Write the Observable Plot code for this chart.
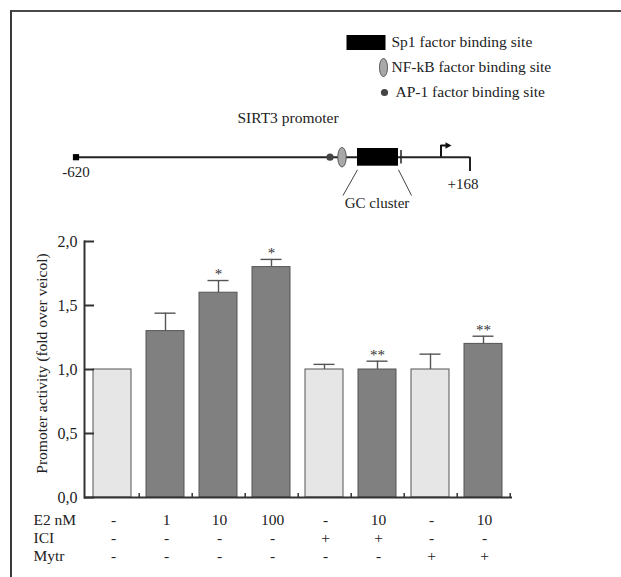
<!DOCTYPE html>
<html><head><meta charset="utf-8">
<script src="https://cdn.jsdelivr.net/npm/d3@7"></script>
<script src="https://cdn.jsdelivr.net/npm/@observablehq/plot@0.6"></script>
<style>
body{margin:0;background:#fff;}
#wrap{position:relative;width:621px;height:577px;overflow:hidden;background:#fff;}
#border{position:absolute;left:10px;top:10px;width:640px;height:600px;border-top:2px solid #4a4a4a;border-left:2px solid #3a3a3a;z-index:5;}
.layer{position:absolute;left:0;}
#wrap svg, #wrap svg text{font-family:"Liberation Serif","Times New Roman",Times,serif !important;}
</style></head><body>
<div id="wrap"><div id="border"></div></div>
<script>
// ---- bar chart data ----
const conditions = ["Vehicle","E2 1 nM","E2 10 nM","E2 100 nM","ICI","E2 10 nM + ICI","Mytr","E2 10 nM + Mytr"];
const activity = [1.00, 1.30, 1.60, 1.80, 1.00, 1.00, 1.00, 1.20];
const sem = [0, 0.14, 0.095, 0.06, 0.04, 0.065, 0.12, 0.06];
const significance = ["", "", "*", "*", "", "**", "", "**"];
const e2Labels = ["-", "1", "10", "100", "-", "10", "-", "10"];
const iciLabels = ["-", "-", "-", "-", "+", "+", "-", "-"];
const mytrLabels = ["-", "-", "-", "-", "-", "-", "+", "+"];
const rowNames = ["E2 nM", "ICI", "Mytr"];
const yTickValues = [0, 0.5, 1, 1.5, 2];
const yLabel = "Promoter activity (fold over veicol)";

// ---- promoter schematic data (bp relative to TSS) ----
const promoterRange = [-620, 168];
const ap1Site = -112;
const nfkbSite = -88;
const sp1Site = [-57, 25];
const gcBoundary = 30;
const tssPos = 110;
const gcLabelSpan = [-86, 51];
const legendItems = ["Sp1 factor binding site", "NF-kB factor binding site", "AP-1 factor binding site"];
const diagramTitle = "SIRT3 promoter";
const gcLabel = "GC cluster";

const serif = "Liberation Serif, Times New Roman, Times, serif";
const wrap = document.getElementById("wrap");
function place(svg, top) { svg.classList.add("layer"); svg.style.top = top + "px"; wrap.appendChild(svg); }

function ellipseSymbol(rx, ry) {
  return {draw(ctx) {
    const k = 0.5523;
    ctx.moveTo(rx, 0);
    ctx.bezierCurveTo(rx, ry * k, rx * k, ry, 0, ry);
    ctx.bezierCurveTo(-rx * k, ry, -rx, ry * k, -rx, 0);
    ctx.bezierCurveTo(-rx, -ry * k, -rx * k, -ry, 0, -ry);
    ctx.bezierCurveTo(rx * k, -ry, rx, -ry * k, rx, 0);
    ctx.closePath();
  }};
}
function rectSymbol(w, h) { return {draw(ctx) { ctx.rect(-w / 2, -h / 2, w, h); }}; }
const arrowHead = {draw(ctx) { ctx.moveTo(4, 0); ctx.lineTo(-2, -3.2); ctx.lineTo(-2, 3.2); ctx.closePath(); }};

// ---- legend ----
place(Plot.plot({
  width: 621, height: 110, margin: 0,
  style: {background: "transparent", fontFamily: serif, fontSize: "15.5px", color: "#222"},
  y: {type: "point", domain: legendItems, range: [42, 92], padding: 0, axis: null},
  marks: [
    Plot.dot([legendItems[0]], {y: d => d, frameAnchor: "left", dx: 365.5, symbol: rectSymbol(39, 15), fill: "#000", stroke: "none"}),
    Plot.dot([legendItems[1]], {y: d => d, frameAnchor: "left", dx: 383, symbol: ellipseSymbol(4, 9), fill: "#a8a8a8", stroke: "#555", strokeWidth: 1}),
    Plot.dot([legendItems[2]], {y: d => d, frameAnchor: "left", dx: 384, r: 3.6, fill: "#444", stroke: "none"}),
    Plot.text(legendItems.slice(0, 2), {y: d => d, text: d => d, frameAnchor: "left", textAnchor: "start", dx: 391, fill: "#222"}),
    Plot.text(legendItems.slice(2), {y: d => d, text: d => d, frameAnchor: "left", textAnchor: "start", dx: 395, fill: "#222"})
  ]
}), 0);

// ---- promoter diagram ----
const lineY = 156.7;
place(Plot.plot({
  width: 621, height: 225, margin: 0,
  style: {background: "transparent", fontFamily: serif, fontSize: "15px", color: "#222"},
  x: {domain: promoterRange, range: [75.5, 469.5], axis: null},
  y: {type: "identity", axis: null},
  marks: [
    Plot.ruleY([lineY], {y: d => d, x1: promoterRange[0], x2: promoterRange[1], stroke: "#222", strokeWidth: 2}),
    Plot.dot([promoterRange[0]], {x: d => d, y: lineY, symbol: "square", r: 3.5, fill: "#000", stroke: "none"}),
    Plot.ruleX([promoterRange[1]], {x: d => d, y1: lineY, y2: 171, stroke: "#222", strokeWidth: 2}),
    Plot.dot([ap1Site], {x: d => d, y: lineY, r: 3.6, fill: "#444", stroke: "none"}),
    Plot.dot([nfkbSite], {x: d => d, y: lineY, symbol: ellipseSymbol(4.2, 9.7), fill: "#a8a8a8", stroke: "#555", strokeWidth: 1}),
    Plot.rect([sp1Site], {x1: d => d[0], x2: d => d[1], y1: 148, y2: 165.7, fill: "#000"}),
    Plot.ruleX([gcBoundary], {x: d => d, y1: 150, y2: 163.5, stroke: "#222", strokeWidth: 1.5}),
    Plot.ruleX([tssPos], {x: d => d, y1: lineY, y2: 145, stroke: "#111", strokeWidth: 2}),
    Plot.ruleY([145], {y: d => d, x1: tssPos, x2: tssPos + 11, stroke: "#111", strokeWidth: 2}),
    Plot.dot([tssPos + 13], {x: d => d, y: 145, symbol: arrowHead, fill: "#111", stroke: "none"}),
    Plot.link([0, 1], {x1: i => sp1Site[i], x2: i => gcLabelSpan[i], y1: 169.3, y2: 195, stroke: "#444", strokeWidth: 1}),
    Plot.text([promoterRange[0]], {x: d => d, y: 171.7, text: d => String(d), fill: "#222"}),
    Plot.text([promoterRange[1]], {x: d => d, y: 184, dx: -7, text: d => "+" + d, fill: "#222"}),
    Plot.text([diagramTitle], {x: -196, y: 118, text: d => d, fill: "#222", fontSize: 15.5}),
    Plot.text([gcLabel], {x: -18, y: 203, text: d => d, fill: "#222"})
  ]
}), 0);

// ---- bar chart ----
const bars = conditions.map((c, i) => ({cond: c, value: activity[i], err: sem[i], sig: significance[i], e2: e2Labels[i] !== "-"}));
const withErr = bars.filter(d => d.err > 0);
const xOpts = {domain: conditions, paddingInner: 0.28, paddingOuter: 0.15, axis: null};
place(Plot.plot({
  width: 621, height: 280, marginTop: 16, marginBottom: 8, marginLeft: 84, marginRight: 109,
  style: {background: "transparent", fontFamily: serif, fontSize: "16px", color: "#222"},
  x: xOpts,
  y: {domain: [0, 2], axis: null},
  marks: [
    Plot.barY(bars, {x: "cond", y: "value", fill: d => d.e2 ? "#808080" : "#e6e6e6", stroke: "#555", strokeWidth: 1}),
    Plot.ruleX(withErr, {x: "cond", y1: "value", y2: d => d.value + d.err, stroke: "#555", strokeWidth: 1.4}),
    Plot.tickY(withErr, {x: "cond", y: d => d.value + d.err, stroke: "#555", strokeWidth: 1.4, insetLeft: 8.5, insetRight: 8.5}),
    Plot.text(bars.filter(d => d.sig), {x: "cond", y: d => d.value + d.err, text: "sig", dy: -6, fontSize: 15, fill: "#333"}),
    Plot.ruleX(conditions, {x: d => d, y1: 0, y2: 0.032, dx: 26.7, stroke: "#333", strokeWidth: 1.5}),
    Plot.axisY({ticks: yTickValues, tickFormat: d => d.toFixed(1).replace(".", ","), tickSize: -10, tickPadding: 17, label: null, stroke: "#333", strokeWidth: 2, fill: "#222"}),
    Plot.ruleY([0], {stroke: "#333", strokeWidth: 2}),
    Plot.frame({anchor: "left", stroke: "#333", strokeWidth: 2}),
    Plot.text([yLabel], {text: d => d, frameAnchor: "left", textAnchor: "middle", rotate: -90, dx: -42, dy: -6, fontSize: 15.5, fill: "#222"})
  ]
}), 225);

// ---- treatment table ----
const tableCells = [e2Labels, iciLabels, mytrLabels].flatMap((row, r) => row.map((t, i) => ({row: rowNames[r], cond: conditions[i], text: t})));
place(Plot.plot({
  width: 621, height: 70, marginTop: 0, marginBottom: 0, marginLeft: 84, marginRight: 109,
  style: {background: "transparent", fontFamily: serif, fontSize: "15.5px", color: "#222"},
  x: xOpts,
  y: {type: "point", domain: rowNames, range: [14.3, 51], padding: 0, axis: null},
  marks: [
    Plot.text(tableCells, {x: "cond", y: "row", text: "text", fill: "#222"}),
    Plot.text(rowNames, {y: d => d, text: d => d, frameAnchor: "left", textAnchor: "start", dx: -51, fill: "#222"})
  ]
}), 505);
</script>
</body></html>
